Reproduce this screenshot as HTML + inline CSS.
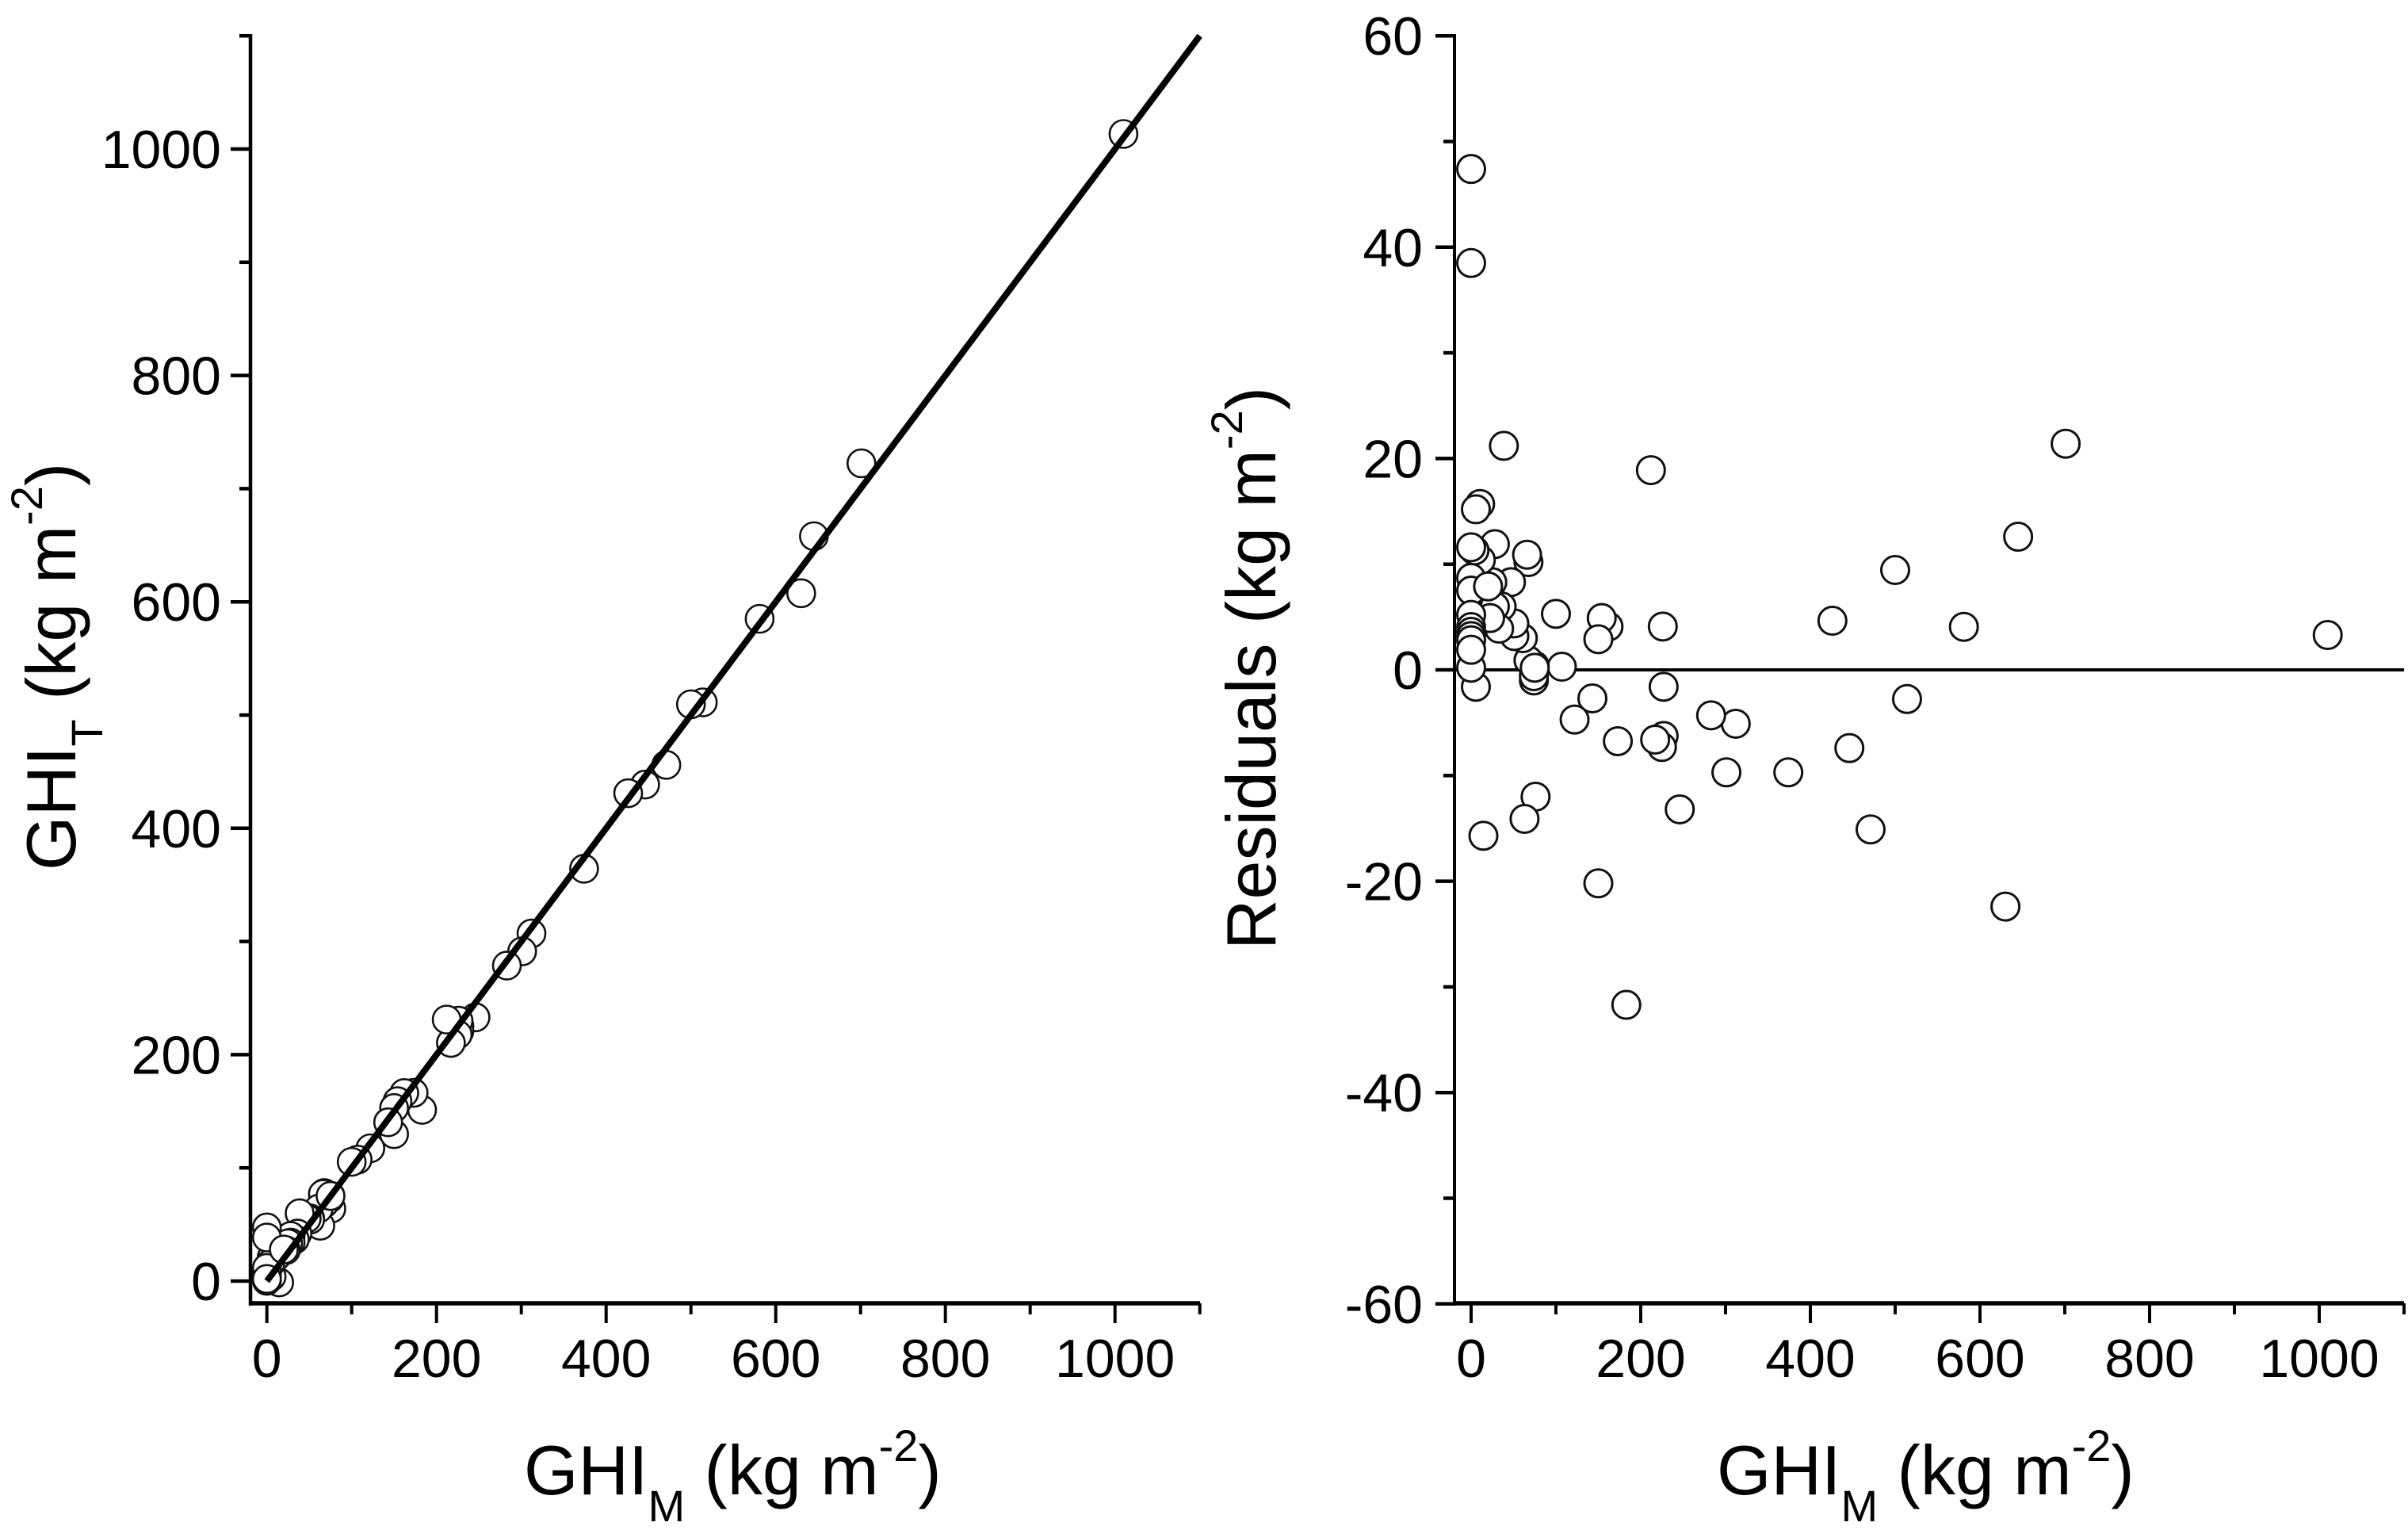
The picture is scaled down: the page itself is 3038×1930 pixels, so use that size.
<!DOCTYPE html>
<html lang="en">
<head>
<meta charset="utf-8">
<title>GHI model comparison and residuals</title>
<style>
  html, body { margin: 0; padding: 0; background: #fff; }
  svg { display: block; }
  text { font-family: "Liberation Sans", Arial, sans-serif; fill: #000; }
  .tick-label { font-size: 68px; }
  .axis-title { font-size: 88px; }
</style>
</head>
<body>
<svg id="figure" xmlns="http://www.w3.org/2000/svg" width="3038" height="1930" viewBox="0 0 3038 1930">
  <rect x="0" y="0" width="3038" height="1930" fill="#fff"/>
  <g id="left-panel"></g>
  <g id="right-panel"></g>

  <text class="axis-title" x="661" y="1885">GHI<tspan font-size="56" dy="34">M</tspan><tspan dy="-34"> (kg m</tspan><tspan font-size="56" dy="-42">-2</tspan><tspan dy="42">)</tspan></text>
  <text class="axis-title" x="2166" y="1885">GHI<tspan font-size="56" dy="34">M</tspan><tspan dy="-34"> (kg m</tspan><tspan font-size="56" dy="-42">-2</tspan><tspan dy="42">)</tspan></text>
  <text class="axis-title" transform="translate(95 1098) rotate(-90)" x="0" y="0">GHI<tspan font-size="56" dy="34">T</tspan><tspan dy="-34"> (kg m</tspan><tspan font-size="56" dy="-42">-2</tspan><tspan dy="42">)</tspan></text>
  <text class="axis-title" transform="translate(1609 1198) rotate(-90)" x="0" y="0">Residuals (kg m<tspan font-size="56" dy="-42">-2</tspan><tspan dy="42">)</tspan></text>
</svg>

<script>
// Shared measured values (x axis of both panels)
const ghiM = [1010,701,645,630,581,514,500,471,446,426,374,312,301,283,246,227,227,226,225,217,212,183,173,162,154,150,150,143,122,107,100,76,75,74,74,67.6,67.6,66,63,61,51,51,47,38.6,36,33,28,28,25,22.4,14.5,11.5,10.6,5.6,5.6,4,0,0,0,0,0,0,0,0,0,0,0,20,75,0];
// Modelled values (y axis of left panel)
const ghiT = [1013.3,722.4,658,607.6,585,511.2,509.5,456,438.6,431,364.3,307,291.3,278.7,233,225.4,220.8,230,217.7,210.4,231,151.3,166.3,166.1,158.9,152.9,129.8,140.3,117.3,107.3,105.3,64,75.4,73,73.4,68.5,77.8,76.9,48.9,64,55.4,54.2,55.3,59.9,42,36.9,39.9,34,33.3,27.3,-1.2,21.9,26.3,20.8,4,15.3,47.4,38.5,8.7,7.5,5.2,4.1,3.6,3.2,2.8,0.2,11.6,27.9,75.2,1.9];
// Residual values (y axis of right panel)
const residuals = [3.3,21.4,12.6,-22.4,4.07,-2.76,9.45,-15.1,-7.4,4.65,-9.7,-5.1,-9.7,-4.3,-13.2,-1.6,-6.25,4.1,-7.3,-6.6,18.9,-31.7,-6.75,4.1,4.9,2.9,-20.2,-2.7,-4.7,0.3,5.3,-12,0.4,-1,-0.6,0.9,10.2,10.9,-14.1,3,3.2,4.4,8.3,21.2,6,3.9,11.9,6,8.3,4.9,-15.7,10.4,15.7,15.2,-1.6,11.3,47.4,38.5,8.7,7.5,5.2,4.05,3.6,3.2,2.8,0.2,11.6,7.9,0.2,1.9];
// Axis tick values
const xMajorTicks = [0,200,400,600,800,1000];
const xMinorTicks = [100,300,500,700,900,1100];
const leftYMajorTicks = [0,200,400,600,800,1000];
const leftYMinorTicks = [100,300,500,700,900,1100];
const rightYMajorTicks = [-60,-40,-20,0,20,40,60];
const rightYMinorTicks = [-50,-30,-10,10,30,50];
// Reference lines
const identityLine = [0,1100];
const zeroResidual = 0;

const NS = 'http://www.w3.org/2000/svg';
function make(parent, tag, attrs, text) {
  const node = document.createElementNS(NS, tag);
  for (const k in attrs) node.setAttribute(k, attrs[k]);
  if (text !== undefined) node.textContent = text;
  parent.appendChild(node);
  return node;
}

// Axis functions
const xLeft = v => 336.7 + v * 1.07;
const yLeft = v => 1616 - v * 1.428;
const xRight = v => 1856 + v * 1.07;
const yRight = v => 845 - v * 13.33;

const leftPanel = document.getElementById('left-panel');
const rightPanel = document.getElementById('right-panel');
let el;

// ---------- Left panel ----------
el = make(leftPanel, 'line', {x1: 316, y1: 43, x2: 316, y2: 1647, stroke: '#000', 'stroke-width': 4.5});


el = make(leftPanel, 'line', {x1: 314, y1: 1644, x2: 1514, y2: 1644, stroke: '#000', 'stroke-width': 5.5});



xMajorTicks.forEach(v => {
  el = make(leftPanel, 'line', {x1: xLeft(v), y1: 1644, x2: xLeft(v), y2: 1669, stroke: '#000', 'stroke-width': 4});
  
  
  el = make(leftPanel, 'text', {class: 'tick-label', x: xLeft(v), y: 1737, 'text-anchor': 'middle'}, String(v));
  
  
});
xMinorTicks.forEach(v => {
  el = make(leftPanel, 'line', {x1: xLeft(v), y1: 1644, x2: xLeft(v), y2: 1658, stroke: '#000', 'stroke-width': 4});
  
  
});
leftYMajorTicks.forEach(v => {
  el = make(leftPanel, 'line', {x1: 291, y1: yLeft(v), x2: 316, y2: yLeft(v), stroke: '#000', 'stroke-width': 4.5});
  
  
  el = make(leftPanel, 'text', {class: 'tick-label', x: 279, y: yLeft(v) + 24, 'text-anchor': 'end'}, String(v));
  
  
});
leftYMinorTicks.forEach(v => {
  el = make(leftPanel, 'line', {x1: 302, y1: yLeft(v), x2: 316, y2: yLeft(v), stroke: '#000', 'stroke-width': 4.5});
  
  
});
ghiM.forEach((m, i) => {
  el = make(leftPanel, 'circle', {cx: xLeft(m), cy: yLeft(ghiT[i]), r: 17.5, fill: '#fff', stroke: '#111', 'stroke-width': 2.6});
  
  
});
el = make(leftPanel, 'line', {x1: xLeft(identityLine[0]), y1: yLeft(identityLine[0]), x2: xLeft(identityLine[1]), y2: yLeft(identityLine[1]), stroke: '#000', 'stroke-width': 8});



// ---------- Right panel ----------
el = make(rightPanel, 'line', {x1: 1835, y1: 43, x2: 1835, y2: 1647, stroke: '#000', 'stroke-width': 4});


el = make(rightPanel, 'line', {x1: 1833, y1: 1644, x2: 3033, y2: 1644, stroke: '#000', 'stroke-width': 5.5});



xMajorTicks.forEach(v => {
  el = make(rightPanel, 'line', {x1: xRight(v), y1: 1644, x2: xRight(v), y2: 1669, stroke: '#000', 'stroke-width': 4});
  
  
  el = make(rightPanel, 'text', {class: 'tick-label', x: xRight(v), y: 1737, 'text-anchor': 'middle'}, String(v));
  
  
});
xMinorTicks.forEach(v => {
  el = make(rightPanel, 'line', {x1: xRight(v), y1: 1644, x2: xRight(v), y2: 1658, stroke: '#000', 'stroke-width': 4});
  
  
});
rightYMajorTicks.forEach(v => {
  el = make(rightPanel, 'line', {x1: 1811, y1: yRight(v), x2: 1835, y2: yRight(v), stroke: '#000', 'stroke-width': 4.5});
  
  
  el = make(rightPanel, 'text', {class: 'tick-label', x: 1795, y: yRight(v) + 24, 'text-anchor': 'end'}, String(v));
  
  
});
rightYMinorTicks.forEach(v => {
  el = make(rightPanel, 'line', {x1: 1821, y1: yRight(v), x2: 1835, y2: yRight(v), stroke: '#000', 'stroke-width': 4.5});
  
  
});
el = make(rightPanel, 'line', {x1: 1835, y1: yRight(zeroResidual), x2: 3033, y2: yRight(zeroResidual), stroke: '#000', 'stroke-width': 4});


ghiM.forEach((m, i) => {
  el = make(rightPanel, 'circle', {cx: xRight(m), cy: yRight(residuals[i]), r: 17.5, fill: '#fff', stroke: '#111', 'stroke-width': 3});
  
  
});
</script>
</body>
</html>
